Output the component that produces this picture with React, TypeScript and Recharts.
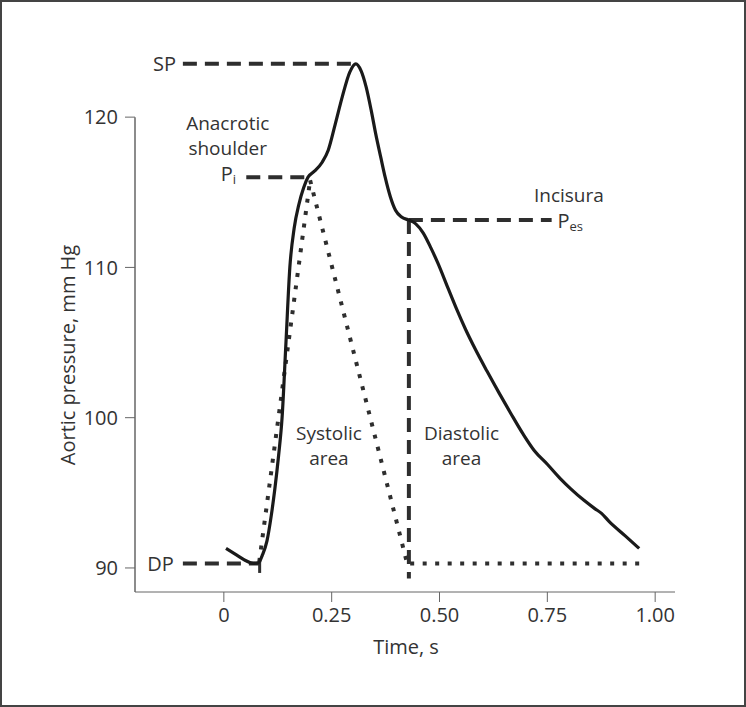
import React from "react";
import { LineChart, Line, XAxis, YAxis, ReferenceLine, ReferenceDot } from "recharts";

// Aortic pressure waveform (time s, pressure mm Hg)
const curveTime = [0.005, 0.03, 0.05, 0.068, 0.08, 0.09, 0.1, 0.11, 0.118, 0.127, 0.135, 0.144, 0.153, 0.163, 0.174, 0.185, 0.195, 0.21, 0.228, 0.242, 0.258, 0.275, 0.292, 0.306, 0.318, 0.33, 0.342, 0.352, 0.364, 0.374, 0.386, 0.398, 0.412, 0.429, 0.445, 0.462, 0.48, 0.496, 0.52, 0.54, 0.56, 0.584, 0.61, 0.639, 0.665, 0.694, 0.72, 0.75, 0.78, 0.805, 0.835, 0.86, 0.875, 0.893, 0.93, 0.963];
const curvePressure = [91.3, 90.85, 90.5, 90.3, 90.35, 90.9, 91.8, 93.5, 95.2, 97.5, 100.0, 105.0, 110.0, 112.6, 114.2, 115.3, 116.0, 116.4, 117.0, 117.8, 119.5, 121.4, 123.0, 123.55, 123.1, 122.0, 120.4, 118.9, 117.3, 116.0, 114.7, 113.8, 113.35, 113.15, 112.9, 112.3, 111.3, 110.3, 108.6, 107.2, 105.9, 104.5, 103.1, 101.6, 100.3, 98.9, 97.8, 96.9, 95.95, 95.25, 94.5, 93.95, 93.65, 93.1, 92.15, 91.3];

// Key pressures
const SP = 123.55;
const PI = 116.0;
const PES = 113.15;
const DP = 90.3;

// Dashed reference segments [t0, t1]
const spRange = [-0.095, 0.297];
const piRange = [0.052, 0.192];
const pesRange = [0.429, 0.76];
const dpRange = [-0.095, 0.082];
const incisuraVert = [0.429, 113.15, 89.3]; // t, pTop, pBottom
const dpVert = [0.083, 90.6, 89.5];

// Dotted area boundaries
const systolicRise = [[0.082, 90.4], [0.2, 115.8]];
const systolicFall = [[0.2, 115.8], [0.425, 90.3]];
const baseline = [[0.432, 90.3], [0.965, 90.3]];

const xTicks = [0, 0.25, 0.5, 0.75, 1.0];
const yTicks = [90, 100, 110, 120];
const xDomain = [-0.206, 1.046];
const yDomain = [88.4, 125];

// Single-line labels
const textLabels = [
  { t: -0.111, p: SP, text: "SP", anchor: "end" },
  { t: -0.116, p: DP, text: "DP", anchor: "end" },
];
// Two-line centred labels
const areaLabels = [
  { t: 0.2436, p: 98.95, lines: ["Systolic", "area"] },
  { t: 0.551, p: 98.95, lines: ["Diastolic", "area"] },
];
// Labels with a subscript pressure symbol underneath
const pressureLabels = [
  { t: 0.009, p: 119.61, lines: ["Anacrotic", "shoulder"], sub: "i" },
  { t: 0.80, p: 114.82, lines: ["Incisura"], sub: "es" },
];

const FONT = "'Open Sans', 'Noto Sans', sans-serif";
const FS = 20;
const LFS = 19;
const LH = 25;
const TEXT = "#333";
const DASH = "#2e2e2e";

const pts = (arr: number[][]) => arr.map(([t, p]) => ({ t, p }));
const curveData = curveTime.map((t, i) => ({ t, p: curvePressure[i] }));
const hSeg = (r: number[], p: number) => [{ t: r[0], p }, { t: r[1], p }];
const vSeg = (v: number[]) => [{ t: v[0], p: v[1] }, { t: v[0], p: v[2] }];

const fmtX = (v: number) => (v === 0 ? "0" : v.toFixed(2));

export default function App() {
  const dashed = { stroke: DASH, strokeWidth: 4, strokeDasharray: "14 8", dot: false, activeDot: false, isAnimationActive: false, type: "linear" as const };
  const dotted = { stroke: DASH, strokeWidth: 4, strokeDasharray: "4 8.5", dot: false, activeDot: false, isAnimationActive: false, type: "linear" as const };
  return (
    <div style={{ position: "absolute", left: 0, top: 0, width: 746, height: 707, boxSizing: "border-box", border: "2px solid #444", background: "#fff", fontFamily: FONT }}>
      <div style={{ position: "absolute", left: -2, top: -2 }}>
        <LineChart width={746} height={707} margin={{ top: 42, right: 71, bottom: 55, left: 50 }}>
          <XAxis
            dataKey="t"
            type="number"
            domain={xDomain}
            ticks={xTicks}
            tickFormatter={fmtX}
            allowDataOverflow
            height={60}
            tickSize={10}
            tickMargin={6}
            stroke="#666"
            tick={{ fill: TEXT, fontSize: FS, fontFamily: FONT }}
            label={{
              content: (props: any) => {
                const vb = props.viewBox;
                return (
                  <text x={vb.x + vb.width / 2 + 1} y={vb.y + 54} textAnchor="middle" dominantBaseline="central" fill={TEXT} fontSize={FS} fontFamily={FONT}>
                    Time, s
                  </text>
                );
              },
            }}
          />
          <YAxis
            dataKey="p"
            type="number"
            domain={yDomain}
            ticks={yTicks}
            allowDataOverflow
            width={85}
            tickSize={10}
            tickMargin={7}
            axisLine={false}
            tickLine={{ stroke: "#666" }}
            tick={{ fill: TEXT, fontSize: FS, fontFamily: FONT }}
            label={{
              content: (props: any) => {
                const vb = props.viewBox;
                const cx = vb.x + 17;
                const cy = 355;
                return (
                  <text x={cx} y={cy} transform={`rotate(-90, ${cx}, ${cy})`} textAnchor="middle" dominantBaseline="central" fill={TEXT} fontSize={FS} fontFamily={FONT}>
                    Aortic pressure, mm Hg
                  </text>
                );
              },
            }}
          />
          <ReferenceLine segment={[{ x: xDomain[0], y: yDomain[0] }, { x: xDomain[0], y: 120 }]} stroke="#666" strokeWidth={1.5} />

          <Line data={hSeg(spRange, SP)} dataKey="p" {...dashed} />
          <Line data={hSeg(piRange, PI)} dataKey="p" {...dashed} />
          <Line data={hSeg(pesRange, PES)} dataKey="p" {...dashed} />
          <Line data={hSeg(dpRange, DP)} dataKey="p" {...dashed} />
          <Line data={vSeg(incisuraVert)} dataKey="p" {...dashed} />
          <Line data={vSeg(dpVert)} dataKey="p" {...dashed} strokeWidth={3} />

          <Line data={pts(systolicRise)} dataKey="p" {...dotted} />
          <Line data={pts(systolicFall)} dataKey="p" {...dotted} />
          <Line data={pts(baseline)} dataKey="p" {...dotted} />

          <Line data={curveData} dataKey="p" type="monotone" stroke="#1a1a1a" strokeWidth={3.2} dot={false} activeDot={false} isAnimationActive={false} />

          {textLabels.map((l, i) => (
            <ReferenceDot
              key={"l" + i}
              x={l.t}
              y={l.p}
              r={0}
              shape={(props: any) => (
                <text x={props.cx} y={props.cy} textAnchor={l.anchor} dominantBaseline="central" fill={TEXT} fontSize={FS} fontFamily={FONT}>
                  {l.text}
                </text>
              )}
            />
          ))}
          {areaLabels.map((l, i) => (
            <ReferenceDot
              key={"a" + i}
              x={l.t}
              y={l.p}
              r={0}
              shape={(props: any) => (
                <text x={props.cx} y={props.cy} textAnchor="middle" dominantBaseline="central" fill={TEXT} fontSize={LFS} fontFamily={FONT}>
                  {l.lines.map((s, j) => (
                    <tspan key={j} x={props.cx} dy={j === 0 ? 0 : LH}>{s}</tspan>
                  ))}
                </text>
              )}
            />
          ))}
          {pressureLabels.map((l, i) => (
            <ReferenceDot
              key={"p" + i}
              x={l.t}
              y={l.p}
              r={0}
              shape={(props: any) => {
                const isShoulder = l.sub === "i";
                const pX = isShoulder ? props.cx - 7 : props.cx - 11.5;
                return (
                  <text x={props.cx} y={props.cy} dominantBaseline="central" fill={TEXT} fontSize={LFS} fontFamily={FONT}>
                    {l.lines.map((s, j) => (
                      <tspan key={j} x={props.cx} dy={j === 0 ? 0 : LH} textAnchor="middle">{s}</tspan>
                    ))}
                    <tspan x={pX} dy={LH} textAnchor="start" fontSize={20}>P</tspan>
                    <tspan dy={6} fontSize={13}>{l.sub}</tspan>
                  </text>
                );
              }}
            />
          ))}
        </LineChart>
      </div>
    </div>
  );
}
